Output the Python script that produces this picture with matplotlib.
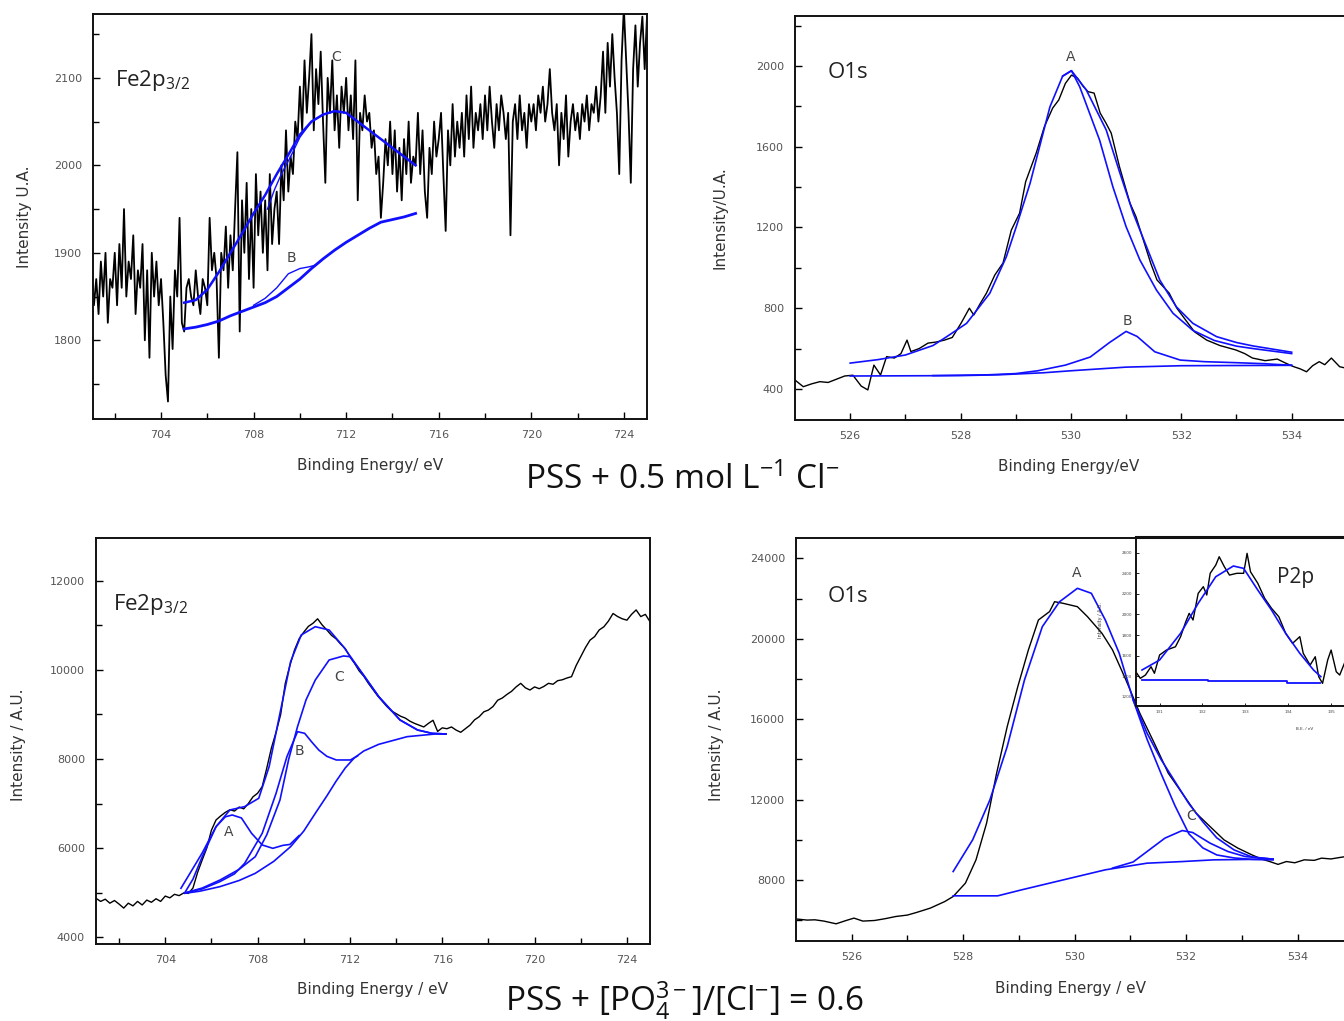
import numpy as np
import matplotlib
matplotlib.use("Agg")
import matplotlib.pyplot as plt
from matplotlib.ticker import FixedLocator

plt.rcParams['font.family'] = ['DejaVu Sans']
plt.rcParams['mathtext.fontset'] = 'custom'
plt.rcParams['mathtext.rm'] = 'Open Sans'
plt.rcParams['mathtext.it'] = 'Open Sans:italic'

BLUE = "#1010ff"

# ---------------- Fe2p3/2, PSS + 0.5 mol/L Cl- (top left) ----------------
fe1_start, fe1_step = 701.0, 0.1
fe1_y = [1880, 1840, 1870, 1830, 1890, 1850, 1900, 1820, 1870, 1860,
         1900, 1840, 1910, 1860, 1950, 1850, 1890, 1870, 1920, 1830,
         1880, 1860, 1910, 1800, 1880, 1780, 1900, 1850, 1890, 1840,
         1870, 1820, 1760, 1730, 1850, 1790, 1880, 1850, 1940, 1820,
         1810, 1860, 1870, 1850, 1840, 1880, 1850, 1830, 1870, 1860,
         1840, 1940, 1880, 1900, 1870, 1780, 1900, 1880, 1930, 1860,
         1920, 1880, 1950, 2015, 1810, 1960, 1900, 1980, 1870, 1950,
         1860, 1990, 1920, 1970, 1900, 1960, 1880, 1990, 1910, 1950,
         1970, 1910, 2000, 1960, 2040, 1970, 2010, 1990, 2050, 2030,
         2090, 2040, 2120, 2060, 2100, 2150, 2040, 2110, 2070, 2130,
         2050, 1980, 2100, 2060, 2120, 2040, 2080, 2020, 2090, 2060,
         2100, 2040, 2080, 2030, 2120, 1960, 2060, 2040, 2080, 2050,
         2060, 2020, 2040, 1990, 2010, 1940, 1980, 2030, 2000, 2050,
         1990, 2040, 1970, 2020, 1960, 2030, 1990, 2050, 1980, 2010,
         2000, 2060, 1990, 2040, 1970, 1940, 2020, 1990, 2050, 2010,
         2030, 2060, 1990, 1925, 2040, 2000, 2070, 2010, 2050, 2020,
         2060, 2010, 2080, 2030, 2090, 2020, 2060, 2040, 2070, 2030,
         2080, 2040, 2090, 2050, 2020, 2070, 2040, 2080, 2060, 2030,
         2060, 1920, 2050, 2070, 2030, 2080, 2040, 2060, 2020, 2070,
         2050, 2070, 2040, 2080, 2060, 2090, 2050, 2070, 2110, 2060,
         2040, 2070, 2000, 2060, 2030, 2080, 2010, 2050, 2070, 2040,
         2060, 2030, 2070, 2050, 2080, 2040, 2070, 2060, 2090, 2050,
         2080, 2130, 2060, 2140, 2090, 2150, 2100, 2060, 1990, 2120,
         2180, 2120, 2060, 1980, 2110, 2160, 2090, 2140, 2170, 2110,
         2170]
fe1_x = fe1_start + fe1_step * np.arange(len(fe1_y))

fe1_env_x = [705.0, 705.5, 706.0, 706.5, 707.0, 707.5, 708.0, 708.5, 709.0, 709.5, 710.0,
             710.5, 711.0, 711.5, 712.0, 712.5, 713.0, 713.5, 714.0, 714.5, 715.0]
fe1_env_y = [1843, 1846, 1858, 1878, 1900, 1922, 1945, 1966, 1990, 2012, 2035,
             2050, 2058, 2062, 2060, 2050, 2040, 2030, 2020, 2010, 2000]
fe1_bg_x = [705.0, 705.5, 706.0, 706.5, 707.0, 707.5, 708.0, 708.5, 709.0, 709.5, 710.0,
            710.5, 711.0, 711.5, 712.0, 712.5, 713.0, 713.5, 714.0, 714.5, 715.0]
fe1_bg_y = [1813, 1815, 1818, 1822, 1828, 1833, 1838, 1843, 1850, 1860, 1870,
            1882, 1893, 1903, 1912, 1920, 1928, 1935, 1938, 1941, 1945]
fe1_b_x = [708.0, 708.5, 709.0, 709.5, 710.0, 710.4, 710.7, 711.0]
fe1_b_y = [1840, 1848, 1860, 1876, 1882, 1884, 1886, 1893]
fe1_c_x = [708.6, 708.9, 709.2, 709.6, 710.0, 710.5, 711.0, 711.5]
fe1_c_y = [1950, 1972, 1990, 2010, 2032, 2050, 2058, 2062]

# ---------------- O1s, PSS + 0.5 mol/L Cl- (top right) ----------------
o1_x = [525.0, 525.15, 525.3, 525.45, 525.6, 525.75, 525.9, 526.05, 526.2, 526.32, 526.43,
        526.55, 526.66, 526.8, 526.92, 527.03, 527.1, 527.25, 527.41, 527.55, 527.71, 527.85,
        528.01, 528.16, 528.24, 528.35, 528.47, 528.62, 528.77, 528.92, 529.07, 529.18,
        529.37, 529.52, 529.67, 529.78, 529.9, 530.01, 530.12, 530.22, 530.31, 530.42,
        530.53, 530.63, 530.73, 530.88, 531.07, 531.18, 531.33, 531.45, 531.56, 531.78,
        531.92, 532.08, 532.24, 532.46, 532.7, 532.99, 533.15, 533.29, 533.52, 533.74,
        533.89, 534.04, 534.15, 534.27, 534.38, 534.5, 534.6, 534.72, 534.87, 535.0]
o1_y = [444, 411, 425, 436, 432, 448, 464, 468, 414, 395, 518,
        469, 560, 553, 575, 642, 585, 600, 627, 632, 642, 655,
        726, 800, 766, 820, 875, 964, 1024, 1187, 1271, 1427,
        1568, 1700, 1792, 1832, 1914, 1955, 1940, 1900, 1873, 1866,
        1767, 1720, 1668, 1501, 1321, 1253, 1123, 1020, 940, 875,
        800, 741, 683, 642, 615, 593, 575, 553, 540, 548,
        528, 510, 500, 485, 515, 535, 520, 553, 510, 502]

o1_env_x = [526.0, 526.5, 527.0, 527.5, 527.75, 528.11, 528.53, 528.83, 529.01, 529.26, 529.62,
            529.85, 530.01, 530.28, 530.64, 530.89, 531.13, 531.37, 531.61, 531.91, 532.21,
            532.64, 533.0, 533.3, 534.0]
o1_env_y = [528, 545, 568, 615, 659, 725, 874, 1055, 1204, 1419, 1798,
            1950, 1977, 1881, 1683, 1468, 1270, 1105, 940, 807, 725,
            659, 630, 613, 582]
o1_a_x = [529.85, 530.01, 530.16, 530.52, 530.76, 531.0, 531.25, 531.55, 531.85, 532.21,
          532.6, 533.0, 533.3, 534.0]
o1_a_y = [1950, 1977, 1897, 1633, 1402, 1204, 1039, 890, 775, 690,
          640, 612, 600, 575]
o1_b_x = [527.5, 528.5, 529.0, 529.4, 529.9, 530.35, 530.7, 531.0, 531.2, 531.52, 531.98,
          532.42, 533.0, 533.5, 534.0]
o1_b_y = [466, 470, 476, 490, 518, 558, 630, 685, 660, 584, 543, 535, 530, 525, 517]
o1_bg_x = [526.0, 528.0, 528.7, 529.5, 530.0, 531.0, 532.0, 534.0]
o1_bg_y = [464, 466, 470, 480, 490, 508, 515, 517]

# ---------------- Fe2p3/2, PSS + [PO4]/[Cl] = 0.6 (bottom left) ----------------
fe2_start, fe2_step = 701.0, 0.2
fe2_y = [4870, 4800, 4850, 4760, 4820, 4740, 4650, 4760, 4700, 4800,
         4720, 4830, 4780, 4860, 4800, 4920, 4880, 4960, 4930, 4990,
         4980, 5100, 5450, 5730, 6000, 6400, 6630, 6720, 6800, 6860,
         6830, 6920, 6880, 7000, 7150, 7230, 7380, 7800, 8250, 8600,
         9000, 9700, 10100, 10450, 10700, 10850, 10980, 11050, 11150, 11010,
         10900, 10780, 10700, 10580, 10480, 10300, 10150, 9980, 9860, 9700,
         9560, 9420, 9300, 9180, 9080, 9020, 8960, 8920, 8850, 8800,
         8760, 8720, 8800, 8870, 8620, 8700, 8680, 8720, 8650, 8600,
         8680, 8760, 8880, 8950, 9060, 9100, 9180, 9320, 9370, 9450,
         9520, 9620, 9700, 9600, 9550, 9620, 9580, 9630, 9700, 9680,
         9760, 9780, 9820, 9850, 10100, 10300, 10500, 10670, 10750, 10900,
         10970, 11100, 11270, 11200, 11150, 11120, 11250, 11350, 11200, 11250,
         11085]
fe2_x = fe2_start + fe2_step * np.arange(len(fe2_y))

fe2_env_x = [704.68, 705.0, 705.6, 706.2, 706.8, 707.44, 708.05, 708.5, 708.97, 709.43, 709.89,
             710.5, 711.1, 711.72, 712.33, 713.25, 714.17, 714.93, 715.55, 716.16]
fe2_env_y = [5095, 5370, 5888, 6478, 6855, 6930, 7117, 7828, 9026, 10187, 10787,
             10973, 10899, 10524, 10075, 9400, 8877, 8652, 8577, 8562]
fe2_bg_x = [704.84, 705.5, 706.37, 707.2, 707.9, 708.7, 709.43, 710.0, 710.5, 711.0, 711.4,
            711.8, 712.18, 712.6, 713.25, 714.48, 715.7, 716.16]
fe2_bg_y = [4982, 5030, 5132, 5270, 5431, 5700, 6030, 6380, 6779, 7170, 7500,
            7800, 8020, 8180, 8330, 8502, 8562, 8562]
fe2_a_x = [704.84, 705.2, 705.6, 706.2, 706.6, 706.9, 707.3, 707.74, 708.2, 708.66, 709.1, 709.4, 709.8]
fe2_a_y = [4990, 5300, 5800, 6480, 6700, 6742, 6675, 6330, 6068, 5993, 6060, 6080, 6280]
fe2_b_x = [704.84, 705.6, 706.37, 707.0, 707.44, 708.2, 708.8, 709.27, 709.73, 710.04, 710.35,
           710.65, 711.0, 711.41, 712.02, 712.33]
fe2_b_y = [4990, 5080, 5245, 5420, 5656, 6330, 7228, 8052, 8614, 8577, 8380,
           8202, 8060, 7978, 7978, 8070]
fe2_c_x = [704.84, 705.6, 706.37, 707.2, 707.9, 708.4, 708.97, 709.35, 709.73, 710.1, 710.5,
           711.1, 711.72, 712.0, 712.33, 712.64, 713.25, 714.17, 714.93, 715.55, 716.16]
fe2_c_y = [4990, 5100, 5280, 5520, 5805, 6300, 7079, 8000, 8727, 9330, 9775,
           10225, 10315, 10300, 10070, 9850, 9400, 8877, 8652, 8577, 8562]

# ---------------- O1s, PSS + [PO4]/[Cl] = 0.6 (bottom right) ----------------
o2_x = [525.03, 525.2, 525.34, 525.5, 525.72, 525.9, 526.04, 526.2, 526.41, 526.6, 526.79,
        527.0, 527.16, 527.41, 527.67, 527.82, 528.04, 528.23, 528.42, 528.6, 528.79, 528.98,
        529.17, 529.35, 529.55, 529.64, 529.79, 530.05, 530.23, 530.49, 530.68, 530.92,
        531.17, 531.43, 531.68, 531.93, 532.18, 532.43, 532.68, 532.93, 533.18, 533.35,
        533.5, 533.65, 533.8, 533.95, 534.12, 534.3, 534.43, 534.6, 534.75, 534.87, 535.0]
o2_y = [6058, 6010, 6024, 5960, 5825, 5990, 6108, 5960, 5990, 6080, 6188,
        6260, 6387, 6605, 6933, 7182, 7847, 9006, 10830, 13316, 15630, 17620,
        19443, 20934, 21350, 21843, 21764, 21594, 21100, 20272, 19443, 17952,
        16296, 14806, 13316, 12320, 11327, 10661, 10000, 9587, 9254, 9050,
        8922, 8780, 8922, 8860, 9006, 8980, 9090, 9050, 9120, 9170, 9150]

o2_a_x = [527.82, 528.17, 528.48, 528.79, 529.1, 529.42, 529.73, 530.05, 530.3, 530.55, 530.8,
          531.05, 531.3, 531.55, 531.8, 532.05, 532.3, 532.55, 532.86, 533.18, 533.56]
o2_a_y = [8424, 10000, 11990, 14637, 17952, 20600, 21843, 22508, 22260, 20934, 19278,
          16958, 15000, 13300, 11700, 10300, 9600, 9250, 9100, 9030, 9000]
o2_env_x = [531.05, 531.3, 531.55, 531.8, 532.05, 532.3, 532.55, 532.86, 533.18, 533.56]
o2_env_y = [16958, 15303, 14000, 12900, 11800, 10900, 10100, 9500, 9150, 9040]
o2_c_x = [530.68, 531.05, 531.3, 531.62, 531.93, 532.12, 532.43, 532.75, 533.06, 533.56]
o2_c_y = [8595, 8900, 9420, 10085, 10462, 10363, 9836, 9420, 9170, 9040]
o2_bg_x = [527.82, 528.62, 529.05, 529.8, 530.55, 531.3, 531.93, 532.5, 533.56]
o2_bg_y = [7216, 7216, 7515, 8012, 8509, 8840, 8920, 9006, 9040]

# ---------------- P2p inset ----------------
p_x = [130.47, 130.55, 130.67, 130.8, 130.88, 131.0, 131.16, 131.37, 131.49, 131.61, 131.69,
       131.78, 131.9, 132.02, 132.1, 132.18, 132.31, 132.39, 132.51, 132.63, 132.8, 132.96,
       133.04, 133.12, 133.29, 133.45, 133.61, 133.78, 133.94, 134.1, 134.27, 134.35, 134.51,
       134.63, 134.71, 134.8, 134.92, 135.0, 135.12, 135.2, 135.31]
p_y = [1428, 1379, 1411, 1492, 1428, 1606, 1654, 1686, 1784, 1929, 2011,
       1946, 2205, 2270, 2189, 2400, 2480, 2561, 2464, 2383, 2400, 2400,
       2594, 2415, 2303, 2157, 2060, 1978, 1817, 1719, 1784, 1622, 1508,
       1589, 1395, 1330, 1557, 1654, 1443, 1411, 1525]
p_fit_x = [130.59, 131.0, 131.49, 131.9, 132.31, 132.72, 132.96, 133.29, 133.61, 133.94,
           134.27, 134.59, 134.76]
p_fit_y = [1460, 1557, 1817, 2108, 2367, 2471, 2448, 2237, 2043, 1817, 1622, 1460, 1395]
p_bg_x = [130.58, 132.14, 132.14, 133.96, 133.96, 134.75]
p_bg_y = [1366, 1366, 1353, 1353, 1336, 1336]

W, H = 1344, 1021
fig = plt.figure(figsize=(W / 100, H / 100), dpi=100)


def box(left, top, width, height):
    return [left / W, 1 - (top + height) / H, width / W, height / H]


def style(ax, xmaj, xmin, ymaj, ymin):
    ax.xaxis.set_major_locator(FixedLocator(xmaj))
    ax.xaxis.set_minor_locator(FixedLocator(xmin))
    ax.yaxis.set_major_locator(FixedLocator(ymaj))
    ax.yaxis.set_minor_locator(FixedLocator(ymin))
    ax.tick_params(which='both', direction='in', top=False, right=False,
                   labelsize=8, labelcolor='#555555', width=1.0)
    ax.tick_params(which='major', length=5, pad=8)
    ax.tick_params(which='minor', length=4)
    for s in ax.spines.values():
        s.set_linewidth(1.4)
        s.set_color('#111111')


lab = dict(fontsize=11, color='#333333')
peak = dict(fontsize=10, color='#444444', ha='center', va='center')
panel = dict(fontsize=16, color='#222222', family='Open Sans', va='center')

# top left
ax1 = fig.add_axes(box(93, 14, 554, 405))
ax1.plot(fe1_x, fe1_y, color='black', lw=1.3)
ax1.plot(fe1_bg_x, fe1_bg_y, color=BLUE, lw=2.0)
ax1.plot(fe1_b_x, fe1_b_y, color=BLUE, lw=1.0)
ax1.plot(fe1_c_x, fe1_c_y, color=BLUE, lw=1.0)
ax1.plot(fe1_env_x, fe1_env_y, color=BLUE, lw=1.8)
ax1.set_xlim(701.06, 725)
ax1.set_ylim(1710, 2173)
style(ax1, [704, 708, 712, 716, 720, 724], [702, 706, 710, 714, 718, 722],
      [1800, 1900, 2000, 2100], [1750, 1850, 1950, 2050, 2150])
ax1.text(0.04, 0.837, r"Fe2p$_\mathregular{3/2}$", transform=ax1.transAxes, **panel)
ax1.text(711.56, 2124, "C", **peak)
ax1.text(709.62, 1894, "B", **peak)
ax1.text(-0.123, 0.5, "Intensity U.A.", rotation=90, transform=ax1.transAxes,
         ha='center', va='center', **lab)
ax1.text(0.5, -0.116, "Binding Energy/ eV", transform=ax1.transAxes,
         ha='center', va='center', **lab)

# top right
ax2 = fig.add_axes(box(795, 16, 607, 404))
ax2.plot(o1_x, o1_y, color='black', lw=1.0)
ax2.plot(o1_bg_x, o1_bg_y, color=BLUE, lw=1.2)
ax2.plot(o1_b_x, o1_b_y, color=BLUE, lw=1.2)
ax2.plot(o1_a_x, o1_a_y, color=BLUE, lw=1.2)
ax2.plot(o1_env_x, o1_env_y, color=BLUE, lw=1.2)
ax2.set_xlim(525, 536)
ax2.set_ylim(246, 2248)
style(ax2, [526, 528, 530, 532, 534], [527, 529, 531, 533, 535],
      [400, 800, 1200, 1600, 2000], [600, 1000, 1400, 1800, 2200])
ax2.text(0.054, 0.859, "O1s", transform=ax2.transAxes, **panel)
ax2.text(530.0, 2045, "A", **peak)
ax2.text(531.03, 735, "B", **peak)
ax2.text(-0.124, 0.5, "Intensity/U.A.", rotation=90, transform=ax2.transAxes,
         ha='center', va='center', **lab)
ax2.text(0.45, -0.114, "Binding Energy/eV", transform=ax2.transAxes,
         ha='center', va='center', **lab)

# bottom left
ax3 = fig.add_axes(box(96, 538, 554, 406))
ax3.plot(fe2_x, fe2_y, color='black', lw=1.0)
ax3.plot(fe2_bg_x, fe2_bg_y, color=BLUE, lw=1.2)
ax3.plot(fe2_a_x, fe2_a_y, color=BLUE, lw=1.2)
ax3.plot(fe2_b_x, fe2_b_y, color=BLUE, lw=1.2)
ax3.plot(fe2_c_x, fe2_c_y, color=BLUE, lw=1.2)
ax3.plot(fe2_env_x, fe2_env_y, color=BLUE, lw=1.2)
ax3.set_xlim(701.0, 725)
ax3.set_ylim(3843, 12966)
style(ax3, [704, 708, 712, 716, 720, 724], [702, 706, 710, 714, 718, 722],
      [4000, 6000, 8000, 10000, 12000], [5000, 7000, 9000, 11000])
ax3.text(0.031, 0.837, r"Fe2p$_\mathregular{3/2}$", transform=ax3.transAxes, **panel)
ax3.text(706.73, 6360, "A", **peak)
ax3.text(709.8, 8180, "B", **peak)
ax3.text(711.53, 9843, "C", **peak)
ax3.text(-0.139, 0.49, "Intensity / A.U.", rotation=90, transform=ax3.transAxes,
         ha='center', va='center', **lab)
ax3.text(0.5, -0.113, "Binding Energy / eV", transform=ax3.transAxes,
         ha='center', va='center', **lab)

# bottom right
ax4 = fig.add_axes(box(796, 538, 613, 403))
ax4.plot(o2_x, o2_y, color='black', lw=1.0)
ax4.plot(o2_bg_x, o2_bg_y, color=BLUE, lw=1.2)
ax4.plot(o2_c_x, o2_c_y, color=BLUE, lw=1.2)
ax4.plot(o2_a_x, o2_a_y, color=BLUE, lw=1.2)
ax4.plot(o2_env_x, o2_env_y, color=BLUE, lw=1.2)
ax4.set_xlim(525, 536)
ax4.set_ylim(4970, 25010)
style(ax4, [526, 528, 530, 532, 534], [527, 529, 531, 533, 535],
      [8000, 12000, 16000, 20000, 24000], [6000, 10000, 14000, 18000, 22000])
ax4.text(0.052, 0.854, "O1s", transform=ax4.transAxes, **panel)
ax4.text(530.04, 23290, "A", **peak)
ax4.text(532.09, 11210, "C", **peak)
ax4.text(-0.13, 0.486, "Intensity / A.U.", rotation=90, transform=ax4.transAxes,
         ha='center', va='center', **lab)
ax4.text(0.447, -0.117, "Binding Energy / eV", transform=ax4.transAxes,
         ha='center', va='center', **lab)

# inset P2p
axi = fig.add_axes(box(1136, 537, 238, 169))
axi.plot(p_x, p_y, color='black', lw=1.0)
axi.plot(p_bg_x, p_bg_y, color=BLUE, lw=1.3)
axi.plot(p_fit_x, p_fit_y, color=BLUE, lw=1.2)
axi.set_xlim(130.45, 136.0)
axi.set_ylim(1110, 2753)
axi.xaxis.set_major_locator(FixedLocator([131, 132, 133, 134, 135]))
axi.yaxis.set_major_locator(FixedLocator([1200, 1400, 1600, 1800, 2000, 2200, 2400, 2600]))
axi.tick_params(direction='in', length=2, width=0.6, labelsize=3, labelcolor='#444444', pad=3)
for s in axi.spines.values():
    s.set_linewidth(1.4)
    s.set_color('#111111')
axi.spines['top'].set_linewidth(2.2)
axi.text(0.594, 0.763, "P2p", transform=axi.transAxes, fontsize=15,
         color='#222222', family='Open Sans', ha='left', va='center')
axi.text(-0.15, 0.51, "Intensity / A.U.", rotation=90, transform=axi.transAxes,
         fontsize=3.5, ha='center', va='center', color='#333333')
axi.text(0.71, -0.136, "B.E. / eV", transform=axi.transAxes,
         fontsize=3, ha='center', va='center', color='#333333')

# condition captions
fig.text(0.508, 0.530, r"PSS + 0.5 mol L$^\mathregular{-1}$ Cl$^\mathregular{-}$",
         family='Open Sans', fontsize=24, ha='center', va='center', color='#111111')
fig.text(0.509, 0.0196, r"PSS + [PO$_\mathregular{4}^\mathregular{3-}$]/[Cl$^\mathregular{-}$] = 0.6",
         family='Open Sans', fontsize=24, ha='center', va='center', color='#111111')

fig.savefig("out.png", dpi=100)
